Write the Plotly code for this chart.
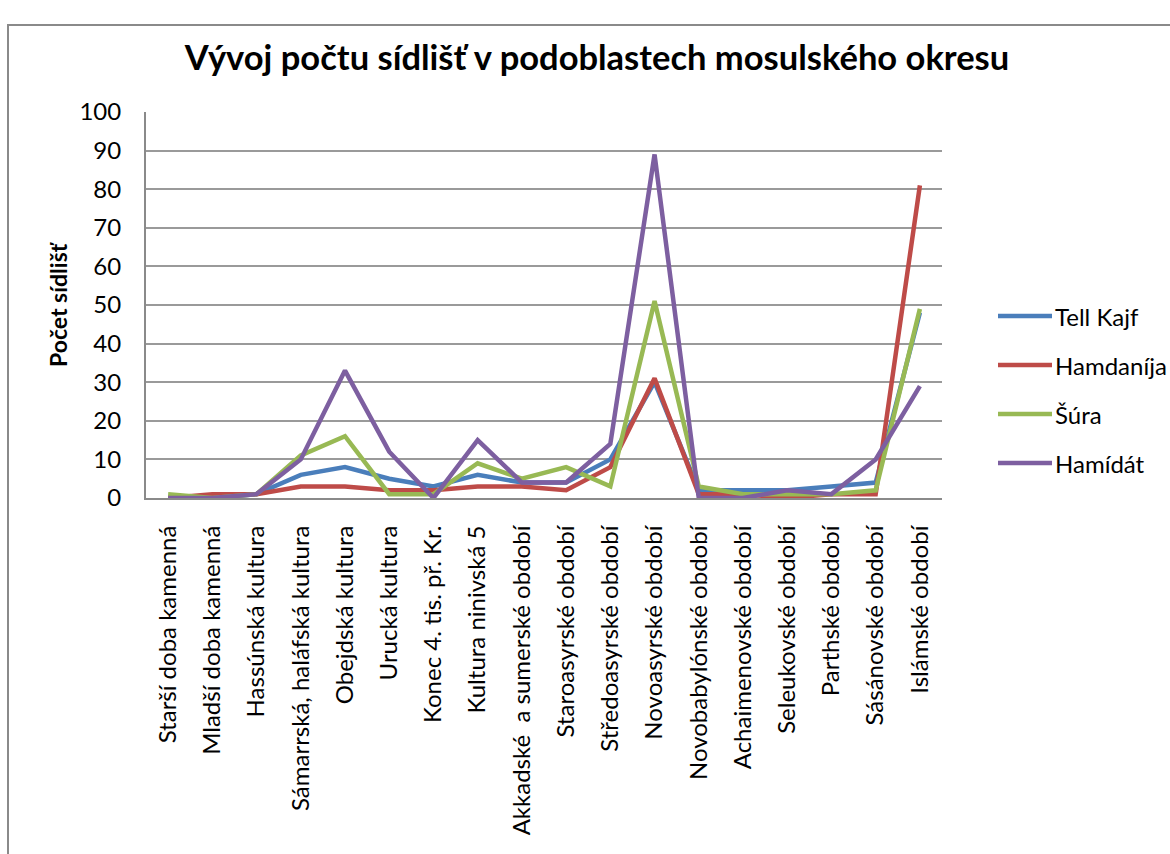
import plotly.graph_objects as go

# Periods along the category axis
periods = [
    "Starší doba kamenná", "Mladší doba kamenná", "Hassúnská kultura",
    "Sámarrská, haláfská kultura", "Obejdská kultura", "Urucká kultura",
    "Konec 4. tis. př. Kr.", "Kultura ninivská 5", "Akkadské\u00a0 a sumerské období",
    "Staroasyrské období", "Středoasyrské období", "Novoasyrské období",
    "Novobabylónské období", "Achaimenovské období", "Seleukovské období",
    "Parthské období", "Sásánovské období", "Islámské období",
]

# Settlement counts per sub-region
tell_kajf = [0, 0, 1, 6, 8, 5, 3, 6, 4, 4, 10, 30, 2, 2, 2, 3, 4, 48]
hamdanija = [0, 1, 1, 3, 3, 2, 2, 3, 3, 2, 8, 31, 1, 1, 0, 1, 1, 81]
sura = [1, 0, 1, 11, 16, 1, 1, 9, 5, 8, 3, 51, 3, 1, 1, 1, 2, 49]
hamidat = [0, 0, 1, 10, 33, 12, 0, 15, 4, 4, 14, 89, 0, 0, 2, 1, 10, 29]

series_names = ["Tell Kajf", "Hamdaníja", "Šúra", "Hamídát"]
series_values = [tell_kajf, hamdanija, sura, hamidat]
series_colors = ["#4A7EBB", "#BE4B48", "#98B954", "#7D5FA0"]

y_ticks = list(range(0, 101, 10))

FONT = "Lato"
W, H = 1170, 854
L, R, T, B = 146, 228, 112, 356
PW, PH = W - L - R, H - T - B


def px_to_paper_x(px):
    return (px - L) / PW


def px_to_paper_y(py):
    return (H - B - py) / PH


fig = go.Figure()
for name, vals, col in zip(series_names, series_values, series_colors):
    fig.add_trace(go.Scatter(
        x=list(range(len(periods))), y=vals, name=name, mode="lines",
        line=dict(color=col, width=4.5), showlegend=False,
    ))

shapes = []
annotations = []

# Outer chart frame
shapes.append(dict(type="rect", xref="paper", yref="paper",
                   x0=px_to_paper_x(8), x1=px_to_paper_x(1190),
                   y0=px_to_paper_y(880), y1=px_to_paper_y(25),
                   line=dict(color="#8a8a8a", width=2), fillcolor="rgba(0,0,0,0)",
                   layer="below"))

# Legend drawn as line samples with labels
legend_y = [316, 365, 414, 463]
for name, col, ly in zip(series_names, series_colors, legend_y):
    shapes.append(dict(type="line", xref="paper", yref="paper",
                       x0=px_to_paper_x(998), x1=px_to_paper_x(1052),
                       y0=px_to_paper_y(ly), y1=px_to_paper_y(ly),
                       line=dict(color=col, width=4.5)))
    annotations.append(dict(text=name, xref="paper", yref="paper",
                            x=px_to_paper_x(1053), y=px_to_paper_y(ly),
                            xanchor="left", yanchor="middle", showarrow=False,
                            font=dict(family=FONT, size=24, color="#000")))

# Y-axis title
annotations.append(dict(text="<b>Počet sídlišť</b>", xref="paper", yref="paper",
                        x=px_to_paper_x(58), y=0.5, textangle=-90,
                        xanchor="center", yanchor="middle", showarrow=False,
                        font=dict(family=FONT, size=23, color="#000")))

fig.update_layout(
    width=W, height=H,
    margin=dict(l=L, r=R, t=T, b=B, autoexpand=False),
    paper_bgcolor="white", plot_bgcolor="white",
    title=dict(text="<b>Vývoj počtu sídlišť v podoblastech mosulského okresu</b>",
               xref="container", yref="container", x=597 / W, y=1 - 58 / H,
               xanchor="center", yanchor="middle",
               font=dict(family=FONT, size=34.5, color="#000")),
    shapes=shapes, annotations=annotations,
    xaxis=dict(
        tickmode="array", tickvals=list(range(len(periods))), ticktext=periods,
        range=[-0.5, len(periods) - 0.5], tickangle=-90,
        showgrid=False, zeroline=False, showline=True, linecolor="#8a8a8a",
        linewidth=2, ticks="", ticklabelstandoff=16,
        tickfont=dict(family=FONT, size=24, color="#000"),
    ),
    yaxis=dict(
        range=[0, 100], tickmode="array", tickvals=y_ticks,
        showgrid=True, gridcolor="#9a9a9a", gridwidth=1.5,
        zeroline=False, showline=True, linecolor="#8a8a8a", linewidth=2,
        ticks="", ticklabelstandoff=18,
        tickfont=dict(family=FONT, size=24, color="#000"),
    ),
)

fig.write_html("out.html")
